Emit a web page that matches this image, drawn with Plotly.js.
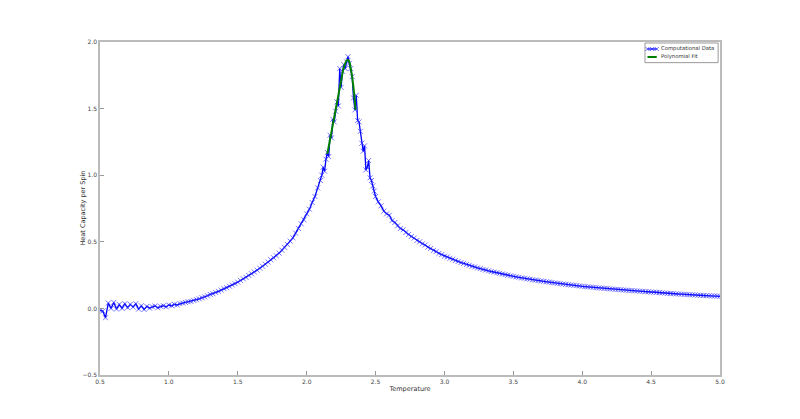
<!DOCTYPE html>
<html>
<head>
<meta charset="utf-8">
<script src="https://cdn.plot.ly/plotly-3.0.1.min.js"></script>
<style>html,body{margin:0;padding:0;background:#fff;}#chart{width:800px;height:419px;}</style>
</head>
<body>
<div id="chart"></div>
<script>
// Temperature grid (three segments, finer around the peak)
const tempLow = [0.50,0.52,0.54,0.56,0.58,0.60,0.62,0.64,0.66,0.68,0.70,0.72,0.74,0.76,0.78,0.80,0.82,0.84,0.86,0.88,0.90,0.92,0.94,0.96,0.98,1.00,1.02,1.04,1.06,1.08,1.10,1.12,1.14,1.16,1.18,1.20,1.22,1.24,1.26,1.28,1.30,1.32,1.34,1.36,1.38,1.40,1.42,1.44,1.46,1.48,1.50,1.52,1.54,1.56,1.58,1.60,1.62,1.64,1.66,1.68,1.70,1.72,1.74,1.76,1.78,1.80,1.82,1.84,1.86,1.88,1.90,1.92,1.94,1.96,1.98,2.00,2.02,2.04,2.06,2.08,2.10];
const heatLow = [-0.015,-0.02,-0.07,0.04,0.00,0.045,-0.005,0.03,0.00,0.035,0.005,0.03,0.01,0.035,-0.005,0.02,-0.008,0.015,0.002,0.012,0.018,0.005,0.015,0.02,0.012,0.025,0.02,0.03,0.026,0.036,0.04,0.045,0.05,0.052,0.06,0.066,0.072,0.08,0.086,0.095,0.105,0.11,0.12,0.128,0.137,0.148,0.155,0.166,0.176,0.186,0.197,0.21,0.222,0.233,0.247,0.26,0.273,0.287,0.302,0.316,0.332,0.348,0.365,0.38,0.395,0.415,0.437,0.458,0.48,0.505,0.53,0.565,0.60,0.635,0.665,0.71,0.745,0.795,0.84,0.905,0.96];

const tempPeak = [2.11,2.12,2.13,2.14,2.15,2.16,2.17,2.18,2.19,2.20,2.21,2.22,2.23,2.24,2.25,2.26,2.27,2.28,2.29,2.30,2.31,2.32,2.33,2.34,2.35,2.36,2.37,2.38,2.39,2.40,2.41,2.42,2.43,2.44,2.45,2.46,2.47,2.48,2.49,2.50];
const heatPeak = [1.00,1.06,1.03,1.12,1.17,1.14,1.30,1.28,1.42,1.40,1.48,1.55,1.52,1.80,1.66,1.78,1.83,1.80,1.85,1.89,1.84,1.80,1.74,1.58,1.49,1.60,1.41,1.40,1.33,1.24,1.18,1.22,1.04,1.06,1.11,0.98,0.96,0.92,0.88,0.84];

const tempHigh = [2.52,2.54,2.56,2.58,2.60,2.62,2.64,2.66,2.68,2.70,2.72,2.74,2.76,2.78,2.80,2.82,2.84,2.86,2.88,2.90,2.92,2.94,2.96,2.98,3.00,3.02,3.04,3.06,3.08,3.10,3.12,3.14,3.16,3.18,3.20,3.22,3.24,3.26,3.28,3.30,3.32,3.34,3.36,3.38,3.40,3.42,3.44,3.46,3.48,3.50,3.52,3.54,3.56,3.58,3.60,3.62,3.64,3.66,3.68,3.70,3.72,3.74,3.76,3.78,3.80,3.82,3.84,3.86,3.88,3.90,3.92,3.94,3.96,3.98,4.00,4.02,4.04,4.06,4.08,4.10,4.12,4.14,4.16,4.18,4.20,4.22,4.24,4.26,4.28,4.30,4.32,4.34,4.36,4.38,4.40,4.42,4.44,4.46,4.48,4.50,4.52,4.54,4.56,4.58,4.60,4.62,4.64,4.66,4.68,4.70,4.72,4.74,4.76,4.78,4.80,4.82,4.84,4.86,4.88,4.90,4.92,4.94,4.96,4.98,5.00];
const heatHigh = [0.80,0.77,0.73,0.71,0.70,0.66,0.645,0.62,0.60,0.59,0.57,0.555,0.54,0.528,0.51,0.50,0.485,0.476,0.46,0.45,0.435,0.427,0.413,0.404,0.392,0.386,0.376,0.369,0.36,0.353,0.344,0.338,0.33,0.324,0.316,0.311,0.304,0.299,0.292,0.288,0.282,0.277,0.272,0.268,0.263,0.258,0.254,0.249,0.245,0.241,0.237,0.233,0.229,0.226,0.222,0.219,0.215,0.212,0.209,0.206,0.203,0.200,0.197,0.194,0.191,0.188,0.186,0.183,0.180,0.178,0.176,0.173,0.171,0.169,0.166,0.164,0.162,0.160,0.158,0.156,0.154,0.152,0.150,0.149,0.147,0.145,0.143,0.142,0.140,0.138,0.137,0.135,0.134,0.132,0.131,0.129,0.128,0.126,0.125,0.123,0.122,0.120,0.119,0.117,0.115,0.113,0.112,0.111,0.109,0.108,0.107,0.105,0.104,0.103,0.102,0.101,0.099,0.098,0.097,0.096,0.095,0.094,0.093,0.092,0.091];

// Polynomial fit around the peak
const fitTemp = [2.15,2.17,2.19,2.21,2.23,2.25,2.27,2.29,2.30,2.31,2.32,2.33,2.34,2.35,2.355];
const fitHeat = [1.16,1.27,1.38,1.49,1.60,1.71,1.81,1.86,1.865,1.85,1.80,1.74,1.655,1.55,1.49];

const xTicks = [0.5,1.0,1.5,2.0,2.5,3.0,3.5,4.0,4.5,5.0];
const yTicks = [-0.5,0.0,0.5,1.0,1.5,2.0];
const seriesNames = ['Computational Data', 'Polynomial Fit'];
const xTitle = 'Temperature';
const yTitle = 'Heat Capacity per Spin';

const temps = tempLow.concat(tempPeak, tempHigh);
const heats = heatLow.concat(heatPeak, heatHigh);

const BLUE = '#0000ff';
const MARK = 'rgba(40,40,255,0.65)';
const GREEN = '#008000';
const FONT = 'DejaVu Sans';

// legend geometry in an overlay axis spanning the plot area [0,1]x[0,1]
const lgX0 = 0.879, lgX1 = 0.997, lgY0 = 0.938, lgY1 = 0.997;
const lgRow1 = 0.979, lgRow2 = 0.955;
const lgS0 = 0.883, lgS1 = 0.898;

const traces = [
  {
    x: temps, y: heats, type: 'scatter', mode: 'lines+markers',
    name: seriesNames[0], showlegend: false,
    line: {color: BLUE, width: 1.3},
    marker: {symbol: 'x-thin', size: 5, color: MARK, line: {color: MARK, width: 1}}
  },
  {
    x: fitTemp, y: fitHeat, type: 'scatter', mode: 'lines',
    name: seriesNames[1], showlegend: false,
    line: {color: GREEN, width: 2, shape: 'spline'}
  },
  {
    x: [lgS0, (lgS0 + lgS1) / 2, lgS1], y: [lgRow1, lgRow1, lgRow1],
    xaxis: 'x2', yaxis: 'y2', type: 'scatter', mode: 'lines+markers',
    showlegend: false, hoverinfo: 'skip',
    line: {color: BLUE, width: 1.3},
    marker: {symbol: 'x-thin', size: 4, color: MARK, line: {color: MARK, width: 1}}
  },
  {
    x: [lgS0, lgS1], y: [lgRow2, lgRow2],
    xaxis: 'x2', yaxis: 'y2', type: 'scatter', mode: 'lines',
    showlegend: false, hoverinfo: 'skip',
    line: {color: GREEN, width: 2}
  }
];

const axisCommon = {
  showgrid: false, zeroline: false, showline: true, mirror: true,
  linecolor: '#bbbbbb', linewidth: 1.5,
  ticks: 'inside', ticklen: 4, tickcolor: '#999999', tickwidth: 1,
  tickfont: {family: FONT, size: 6, color: '#444'},
  tickformat: '.1f'
};

const layout = {
  width: 800, height: 419,
  margin: {l: 100, r: 80, t: 42, b: 44},
  paper_bgcolor: '#ffffff', plot_bgcolor: '#ffffff',
  showlegend: false,
  xaxis: Object.assign({}, axisCommon, {
    range: [0.5, 5.0], tickvals: xTicks,
    title: {text: xTitle, font: {family: FONT, size: 6.5, color: '#333'}, standoff: 2}
  }),
  yaxis: Object.assign({}, axisCommon, {
    range: [-0.5, 2.0], tickvals: yTicks
  }),
  xaxis2: {overlaying: 'x', range: [0, 1], visible: false, fixedrange: true},
  yaxis2: {overlaying: 'y', range: [0, 1], visible: false, fixedrange: true},
  shapes: [
    {type: 'rect', xref: 'paper', yref: 'paper', x0: lgX0, x1: lgX1, y0: lgY0, y1: lgY1,
     line: {color: '#999999', width: 1}, fillcolor: '#ffffff', layer: 'below'}
  ],
  annotations: [
    {xref: 'paper', yref: 'paper', x: lgS1 + 0.004, y: lgRow1, text: seriesNames[0], showarrow: false,
     xanchor: 'left', yanchor: 'middle', font: {family: FONT, size: 5.3, color: '#333'}},
    {xref: 'paper', yref: 'paper', x: lgS1 + 0.004, y: lgRow2, text: seriesNames[1], showarrow: false,
     xanchor: 'left', yanchor: 'middle', font: {family: FONT, size: 5.3, color: '#333'}},
    {xref: 'paper', yref: 'paper', x: -0.029, y: 0.5, text: yTitle, showarrow: false, textangle: -90,
     xanchor: 'center', yanchor: 'middle', font: {family: FONT, size: 6.5, color: '#333'}}
  ]
};

Plotly.newPlot('chart', traces, layout, {displayModeBar: false, responsive: false});
</script>
</body>
</html>
